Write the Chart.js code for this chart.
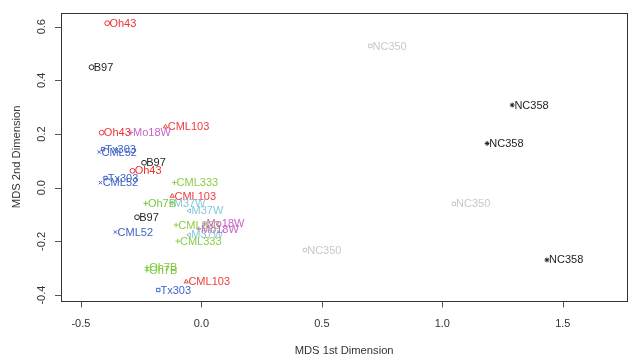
<!DOCTYPE html>
<html>
<head>
<meta charset="utf-8">
<script src="https://cdn.jsdelivr.net/npm/chart.js@4.4.0/dist/chart.umd.min.js"></script>
<style>
  html, body { margin: 0; padding: 0; background: #ffffff; }
  canvas { display: block; }
</style>
</head>
<body>
<canvas id="mds" width="631" height="355"></canvas>
<script>
// MDS coordinates of each sample (1st and 2nd dimension)
const sampleNames = [
  'Oh43', 'B97', 'Oh43', 'Mo18W', 'CML103', 'Tx303', 'CML52', 'B97', 'Oh43', 'Tx303', 'CML52',
  'CML333', 'CML103', 'Oh7B', 'M37W', 'M37W', 'B97', 'CML52', 'CML333', 'Mo18W', 'Mo18W',
  'M37W', 'CML333', 'Oh7B', 'Oh7B', 'CML103', 'Tx303',
  'NC350', 'NC358', 'NC358', 'NC350', 'NC350', 'NC358'
];
const dim1 = [
  -0.391, -0.456, -0.414, -0.293, -0.149, -0.408, -0.424, -0.238, -0.286, -0.398, -0.419,
  -0.112, -0.121, -0.231, -0.124, -0.050, -0.267, -0.357, -0.105, 0.012, -0.011,
  -0.051, -0.098, -0.226, -0.226, -0.063, -0.179,
  0.701, 1.290, 1.186, 1.048, 0.430, 1.434
];
const dim2 = [
  0.613, 0.449, 0.205, 0.205, 0.227, 0.144, 0.133, 0.093, 0.063, 0.036, 0.019,
  0.019, -0.031, -0.058, -0.057, -0.086, -0.110, -0.165, -0.139, -0.135, -0.154,
  -0.176, -0.199, -0.297, -0.307, -0.350, -0.381,
  0.528, 0.308, 0.165, -0.060, -0.232, -0.269
];
const groupNames = ['B97', 'CML103', 'CML333', 'CML52', 'M37W', 'Mo18W', 'NC350', 'NC358', 'Oh43', 'Oh7B', 'Tx303'];

// axis limits and tick marks
const xLimits = [-0.584, 1.769];
const yLimits = [-0.422, 0.652];
const xTickValues = [-0.5, 0, 0.5, 1, 1.5];
const xTickLabels = ['-0.5', '0.0', '0.5', '1.0', '1.5'];
const yTickValues = [-0.4, -0.2, 0, 0.2, 0.4, 0.6];
const yTickLabels = ['-0.4', '-0.2', '0.0', '0.2', '0.4', '0.6'];
const xTitle = 'MDS 1st Dimension';
const yTitle = 'MDS 2nd Dimension';

// per-genotype colour and plotting symbol
const groupStyle = {
  B97:    { color: '#262626', symbol: 'circle',   rotation: 0 },
  CML103: { color: '#f03c3c', symbol: 'triangle', rotation: 0 },
  CML333: { color: '#8ccc48', symbol: 'cross',    rotation: 0 },
  CML52:  { color: '#4262c4', symbol: 'crossRot', rotation: 0 },
  M37W:   { color: '#86cad8', symbol: 'triangle', rotation: -90 },
  Mo18W:  { color: '#c864c4', symbol: 'cross',    rotation: 0 },
  NC350:  { color: '#c8c8c8', symbol: 'rect',     rotation: 0 },
  NC358:  { color: '#1e1e1e', symbol: 'star',     rotation: 0 },
  Oh43:   { color: '#f03232', symbol: 'circle',   rotation: 0 },
  Oh7B:   { color: '#7cc83c', symbol: 'cross',    rotation: 0 },
  Tx303:  { color: '#3c64c8', symbol: 'rect',     rotation: 0 }
};

const FONT = "'Liberation Sans', Arial, sans-serif";
const AXIS_COLOR = '#333333';

const datasets = groupNames.map(g => {
  const idx = sampleNames.map((s, i) => s === g ? i : -1).filter(i => i >= 0);
  const st = groupStyle[g];
  return {
    label: g,
    data: idx.map(i => ({ x: dim1[i], y: dim2[i] })),
    pointStyle: st.symbol,
    rotation: st.rotation,
    pointRadius: 2.4,
    pointBorderWidth: 1,
    borderColor: st.color,
    backgroundColor: 'rgba(0,0,0,0)',
    pointHoverRadius: 2.4
  };
});

// sample labels written just right of each symbol
const sampleLabels = {
  id: 'sampleLabels',
  afterDatasetsDraw(chart) {
    const ctx = chart.ctx;
    ctx.save();
    ctx.font = '11px ' + FONT;
    ctx.textAlign = 'left';
    ctx.textBaseline = 'middle';
    chart.data.datasets.forEach((ds, di) => {
      const meta = chart.getDatasetMeta(di);
      ctx.fillStyle = groupStyle[ds.label].color;
      meta.data.forEach(pt => {
        ctx.fillText(ds.label, pt.x + 2.2, pt.y + 0.5);
      });
    });
    ctx.restore();
  }
};

// box, ticks, tick labels and axis titles
const frameAxes = {
  id: 'frameAxes',
  afterDraw(chart) {
    const ctx = chart.ctx;
    const a = chart.chartArea;
    const xs = chart.scales.x, ys = chart.scales.y;
    ctx.save();
    ctx.strokeStyle = AXIS_COLOR;
    ctx.lineWidth = 1;
    ctx.strokeRect(Math.round(a.left) + 0.5, Math.round(a.top) + 0.5,
                   Math.round(a.right - a.left) - 1, Math.round(a.bottom - a.top));
    ctx.strokeStyle = '#555555';
    ctx.beginPath();
    xTickValues.forEach(v => {
      const px = Math.round(xs.getPixelForValue(v)) + 0.5;
      ctx.moveTo(px, Math.round(a.bottom) + 0.5);
      ctx.lineTo(px, Math.round(a.bottom) + 6.5);
    });
    yTickValues.forEach(v => {
      const py = Math.round(ys.getPixelForValue(v)) + 0.5;
      ctx.moveTo(Math.round(a.left) + 0.5, py);
      ctx.lineTo(Math.round(a.left) - 6, py);
    });
    ctx.stroke();

    ctx.fillStyle = AXIS_COLOR;
    ctx.font = '11px ' + FONT;
    ctx.textAlign = 'center';
    ctx.textBaseline = 'alphabetic';
    xTickValues.forEach((v, i) => {
      ctx.fillText(xTickLabels[i], xs.getPixelForValue(v), a.bottom + 26);
    });
    yTickValues.forEach((v, i) => {
      ctx.save();
      ctx.translate(a.left - 15.5, ys.getPixelForValue(v));
      ctx.rotate(-Math.PI / 2);
      ctx.fillText(yTickLabels[i], 0, 0);
      ctx.restore();
    });

    ctx.font = '11.2px ' + FONT;
    ctx.fillText(xTitle, (a.left + a.right) / 2, a.bottom + 53);
    ctx.save();
    ctx.translate(20, (a.top + a.bottom) / 2);
    ctx.rotate(-Math.PI / 2);
    ctx.fillText(yTitle, 0, 0);
    ctx.restore();
    ctx.restore();
  }
};

new Chart(document.getElementById('mds'), {
  type: 'scatter',
  data: { datasets },
  options: {
    responsive: false,
    animation: false,
    devicePixelRatio: 1,
    layout: { padding: { left: 60.7, right: 1, top: 12.7, bottom: 54 } },
    plugins: { legend: { display: false }, tooltip: { enabled: false } },
    events: [],
    scales: {
      x: { type: 'linear', min: xLimits[0], max: xLimits[1], display: false },
      y: { type: 'linear', min: yLimits[0], max: yLimits[1], display: false }
    }
  },
  plugins: [sampleLabels, frameAxes]
});
</script>
</body>
</html>
